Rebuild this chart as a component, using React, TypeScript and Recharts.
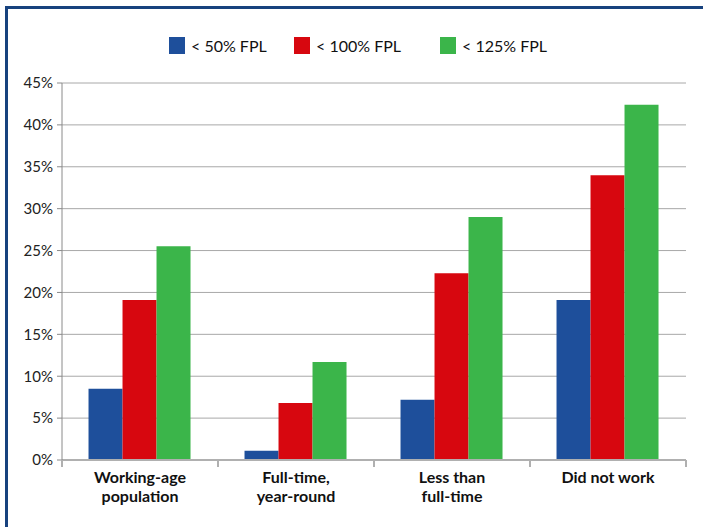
import React from "react";
import { BarChart, Bar, XAxis, YAxis, CartesianGrid, Legend } from "recharts";

const categories = ["Working-age population", "Full-time, year-round", "Less than full-time", "Did not work"];
const categoryLines = [["Working-age", "population"], ["Full-time,", "year-round"], ["Less than", "full-time"], ["Did not work"]];
const below50 = [8.5, 1.1, 7.2, 19.1];
const below100 = [19.1, 6.8, 22.3, 34.0];
const below125 = [25.5, 11.7, 29.0, 42.4];
const yTicks = [0, 5, 10, 15, 20, 25, 30, 35, 40, 45];
const seriesNames = ["< 50% FPL", "< 100% FPL", "< 125% FPL"];
const colors = ["#1e4f9b", "#d7070f", "#3bb54a"];

const data = categories.map((c, i) => ({
  name: c,
  idx: i,
  a: below50[i],
  b: below100[i],
  c: below125[i],
}));

const FONT = "Lato, 'Open Sans', sans-serif";

const XTick = (props: any) => {
  const { x, y, payload, index } = props;
  const half = 78;
  const lines = categoryLines[payload.index ?? index] || [payload.value];
  return (
    <g>
      <line x1={x - half} y1={y - 8} x2={x - half} y2={y - 1} stroke="#b0b0b0" strokeWidth={2} />
      {index === categories.length - 1 && (
        <line x1={x + half} y1={y - 8} x2={x + half} y2={y - 1} stroke="#b0b0b0" strokeWidth={2} />
      )}
      {lines.map((l: string, k: number) => (
        <text key={k} x={x} y={y + 15 + k * 19} textAnchor="middle" fontFamily={FONT} fontWeight={700} fontSize={16} fill="#111">
          {l}
        </text>
      ))}
    </g>
  );
};

const LegendContent = () => (
  <div style={{ position: "relative", height: 20, width: 703, fontFamily: FONT, fontSize: 16, color: "#111" }}>
    {seriesNames.map((n, i) => (
      <div key={n} style={{ position: "absolute", left: [169, 294, 440][i], top: 0, display: "flex", alignItems: "center" }}>
        <div style={{ width: 16, height: 17, background: colors[i], marginRight: 6 }} />
        <span>{n}</span>
      </div>
    ))}
  </div>
);

export default function App() {
  return (
    <div style={{ position: "absolute", left: 0, top: 0, width: 703, height: 527, background: "#fff", overflow: "hidden" }}>
      <div style={{ position: "absolute", left: 5, top: 6, width: 720, height: 560, borderLeft: "3px solid #17427e", borderTop: "3px solid #17427e", boxSizing: "border-box" }} />
      <div style={{ position: "absolute", left: 0, top: 0 }}>
        <BarChart
          width={703}
          height={527}
          data={data}
          margin={{ top: 83, right: 17, bottom: 0, left: 0 }}
          barCategoryGap="17%"
          barGap={0}
        >
          <CartesianGrid vertical={false} stroke="#a8a8a8" strokeWidth={1} />
          <XAxis
            dataKey="name"
            tickLine={false}
            axisLine={{ stroke: "#b0b0b0", strokeWidth: 2 }}
            tick={<XTick />}
            interval={0}
            height={67}
          />
          <YAxis
            width={62}
            domain={[0, 45]}
            ticks={yTicks}
            tickFormatter={(v: number) => `${v}%`}
            axisLine={{ stroke: "#8a8a8a" }}
            tickLine={{ stroke: "#8a8a8a" }}
            tickSize={5}
            tickMargin={4}
            tick={{ fontFamily: FONT, fontSize: 15, fill: "#222" }}
            interval={0}
          />
          <Legend
            verticalAlign="middle"
            align="center"
            layout="horizontal"
            wrapperStyle={{ top: 36, left: 0, width: 703 }}
            content={<LegendContent />}
          />
          <Bar dataKey="a" name={seriesNames[0]} fill={colors[0]} isAnimationActive={false} />
          <Bar dataKey="b" name={seriesNames[1]} fill={colors[1]} isAnimationActive={false} />
          <Bar dataKey="c" name={seriesNames[2]} fill={colors[2]} isAnimationActive={false} />
        </BarChart>
      </div>
    </div>
  );
}
